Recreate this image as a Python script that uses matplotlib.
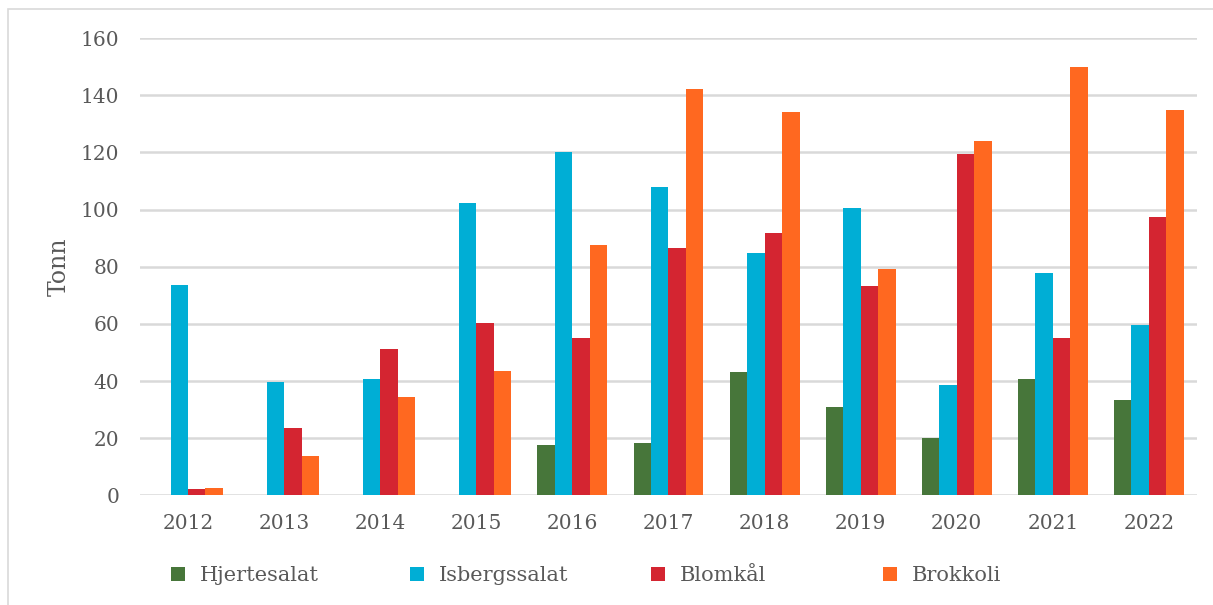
import numpy as np
import matplotlib
matplotlib.use("Agg")
import matplotlib.pyplot as plt
from matplotlib.patches import Rectangle

years = ["2012", "2013", "2014", "2015", "2016", "2017", "2018", "2019", "2020", "2021", "2022"]
hjertesalat = [0, 0, 0, 0, 17.5, 18.4, 43.3, 30.8, 20.0, 40.7, 33.3]
isbergssalat = [73.8, 39.8, 40.6, 102.4, 120.3, 107.9, 84.8, 100.7, 38.8, 78.0, 59.6]
blomkaal = [2.1, 23.5, 51.2, 60.2, 55.2, 86.5, 91.7, 73.3, 119.6, 55.2, 97.5]
brokkoli = [2.7, 13.8, 34.3, 43.7, 87.5, 142.2, 134.3, 79.2, 124.0, 149.8, 135.0]

series = [
    ("Hjertesalat", hjertesalat, "#47763a"),
    ("Isbergssalat", isbergssalat, "#00aed5"),
    ("Blomkål", blomkaal, "#d42531"),
    ("Brokkoli", brokkoli, "#ff6820"),
]

text_col = "#595959"
grid_col = "#d9d9d9"
plt.rcParams["font.family"] = ["DejaVu Serif"]

fig = plt.figure(figsize=(12.13, 6.05), dpi=100)
ax = fig.add_axes([0.1154, 0.181, 0.8714, 0.756])

# outer frame of the chart area
fig.add_artist(Rectangle((8 / 1213, -0.05), 1.1, 1.05 - 9 / 605, transform=fig.transFigure,
                         fill=False, edgecolor=grid_col, linewidth=1.2))

x = np.arange(len(years))
w = 1 / 5.5
handles = []
for i, (name, vals, col) in enumerate(series):
    b = ax.bar(x + (i - 1.5) * w, vals, width=w, color=col, label=name, zorder=3)
    handles.append(b)

ax.set_xlim(-0.5, len(years) - 0.5)
ax.set_ylim(0, 160)
ax.set_yticks(np.arange(0, 161, 20))
ax.set_xticks(x)
ax.set_xticklabels(years)
ax.grid(axis="y", color=grid_col, linewidth=1.8, zorder=0)
for s in ax.spines.values():
    s.set_visible(False)
ax.tick_params(length=0, colors=text_col, labelsize=14.5)
ax.tick_params(axis="y", pad=15)
ax.tick_params(axis="x", pad=13)
ax.set_ylabel("Tonn", color=text_col, fontsize=17, labelpad=7)

# one legend entry per column, evenly spaced like the original chart
legend_x = [152, 391, 632, 864]
for h, (name, _, _), px in zip(handles, series, legend_x):
    fig.legend([h], [name], loc="center left", bbox_to_anchor=(px / 1213, 0.048),
               frameon=False, fontsize=15, labelcolor=text_col,
               handlelength=0.7, handleheight=0.7, handletextpad=0.7)

fig.savefig("out.png", dpi=100)
